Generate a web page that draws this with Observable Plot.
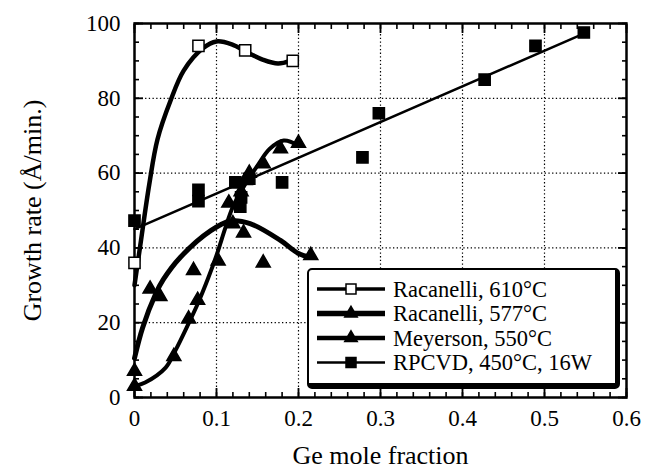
<!DOCTYPE html>
<html><head><meta charset="utf-8">
<script src="https://cdn.jsdelivr.net/npm/d3@7"></script>
<script src="https://cdn.jsdelivr.net/npm/@observablehq/plot@0.6"></script>
<style>
body{margin:0;background:#fff;}
#wrap{position:relative;width:655px;height:470px;font-family:"Liberation Serif",serif;}
#legend{position:absolute;left:307px;top:268px;width:306px;height:113px;background:#fff;border:2px solid #000;border-bottom-width:6px;border-right-width:5px;border-radius:5px;}
</style></head>
<body><div id="wrap"><div id="legend"></div></div>
<script>
// Racanelli 610°C (open squares)
const r610X = [0, 0.078, 0.135, 0.193];
const r610Y = [36, 94, 92.8, 90];
const r610FitX = [0, 0.007, 0.018, 0.028, 0.044, 0.06, 0.083, 0.1, 0.12, 0.135, 0.157, 0.175, 0.19];
const r610FitY = [30, 40.6, 57, 69, 79.4, 87.4, 93.3, 95.2, 94.3, 92.6, 90.3, 89.3, 90];
// Racanelli 577°C (filled triangles)
const r577X = [0.019, 0.031, 0.072, 0.12, 0.133, 0.157, 0.215];
const r577Y = [29, 27, 34, 46.5, 44, 36, 38];
const r577FitX = [0, 0.01, 0.026, 0.035, 0.056, 0.093, 0.117, 0.141, 0.178, 0.2, 0.215];
const r577FitY = [10.5, 18.7, 27.8, 31.5, 37.5, 44.6, 47.2, 46.5, 42, 38.5, 37.5];
// Meyerson 550°C (filled triangles)
const meyX = [0, 0, 0.048, 0.066, 0.077, 0.102, 0.115, 0.13, 0.135, 0.14, 0.157, 0.178, 0.2];
const meyY = [3, 7, 11, 21, 26, 36.5, 52, 55, 58, 60, 62.5, 66.5, 68];
const meyFitX = [0, 0.013, 0.038, 0.05, 0.066, 0.077, 0.09, 0.1, 0.111, 0.12, 0.135, 0.15, 0.165, 0.182, 0.2];
const meyFitY = [3, 4, 8, 12.6, 19.8, 25, 32, 38, 45.5, 51, 57, 62, 66.5, 68.7, 67.4];
// RPCVD 450°C 16W (filled squares)
const rpX = [0, 0.078, 0.078, 0.123, 0.129, 0.13, 0.14, 0.18, 0.278, 0.298, 0.427, 0.489, 0.548];
const rpY = [47.3, 55.5, 52.5, 57.5, 51, 53.5, 58.5, 57.5, 64.2, 76, 85, 94, 97.6];
const rpFitX = [0, 0.55];
const rpFitY = [45, 97.5];

const legendNames = ["Racanelli, 610°C", "Racanelli, 577°C", "Meyerson, 550°C", "RPCVD, 450°C, 16W"];
const xMajor = [0, 0.1, 0.2, 0.3, 0.4, 0.5, 0.6];
const xMinor = d3.range(0, 31).map(i => i * 0.02);
const yMajor = [0, 20, 40, 60, 80, 100];
const yMinor = d3.range(0, 21).map(i => i * 5);
const xGrid = [0.1, 0.2, 0.3, 0.4, 0.5];
const yGrid = [20, 40, 60, 80];
const xTitle = "Ge mole fraction";
const yTitle = "Growth rate (Å/min.)";
const FONT = "'Liberation Serif', serif";

const zip = (xs, ys) => xs.map((x, i) => ({x, y: ys[i]}));
const series = [
  {fit: zip(r610FitX, r610FitY), pts: zip(r610X, r610Y), sw: 4.5, symbol: "square", fill: "white", r: 6.3, lsw: 3.5},
  {fit: zip(r577FitX, r577FitY), pts: zip(r577X, r577Y), sw: 5, symbol: "triangle", fill: "black", r: 5.2, lsw: 5.5},
  {fit: zip(meyFitX, meyFitY), pts: zip(meyX, meyY), sw: 4, symbol: "triangle", fill: "black", r: 5.2, lsw: 4.5},
  {fit: zip(rpFitX, rpFitY), pts: zip(rpX, rpY), sw: 2.5, symbol: "square", fill: "black", r: 6.3, lsw: 2.5}
];

const marks = [
  Plot.gridX(xGrid, {stroke: "black", strokeOpacity: 1, strokeWidth: 1.2, strokeDasharray: "1.3,2.4"}),
  Plot.gridY(yGrid, {stroke: "black", strokeOpacity: 1, strokeWidth: 1.2, strokeDasharray: "1.3,2.4"}),
  Plot.axisX(xMinor, {anchor: "bottom", tickSize: -5, fill: "none", label: null, strokeWidth: 1.6}),
  Plot.axisX(xMajor, {anchor: "bottom", tickSize: -9, fill: "none", label: null, strokeWidth: 1.8}),
  Plot.axisX(xMinor, {anchor: "top", tickSize: -5, fill: "none", label: null, strokeWidth: 1.6}),
  Plot.axisX(xMajor, {anchor: "top", tickSize: -9, fill: "none", label: null, strokeWidth: 1.8}),
  Plot.axisY(yMinor, {anchor: "left", tickSize: -5, fill: "none", label: null, strokeWidth: 1.6}),
  Plot.axisY(yMajor, {anchor: "left", tickSize: -9, fill: "none", label: null, strokeWidth: 1.8}),
  Plot.axisY(yMinor, {anchor: "right", tickSize: -5, fill: "none", label: null, strokeWidth: 1.6}),
  Plot.axisY(yMajor, {anchor: "right", tickSize: -9, fill: "none", label: null, strokeWidth: 1.8}),
  Plot.axisX(xMajor, {anchor: "bottom", tickSize: 0, tickPadding: 12, fontSize: 23, tickFormat: d => d === 0 ? "0" : d3.format(".1f")(d),
    label: xTitle, labelAnchor: "center", labelArrow: "none", labelOffset: 66}),
  Plot.axisY(yMajor, {anchor: "left", tickSize: 0, tickPadding: 14, fontSize: 23,
    label: yTitle, labelAnchor: "center", labelArrow: "none", labelOffset: 112}),
  Plot.frame({stroke: "black", strokeWidth: 2.5})
];
for (const s of series) {
  marks.push(Plot.line(s.fit, {x: "x", y: "y", stroke: "black", strokeWidth: s.sw, curve: "catmull-rom"}));
}
for (const s of series) {
  marks.push(Plot.dot(s.pts, {x: "x", y: "y", symbol: s.symbol, r: s.r, fill: s.fill, stroke: "black", strokeWidth: 1.5}));
}

const chart = Plot.plot({
  width: 655, height: 470,
  marginLeft: 134, marginRight: 29, marginTop: 23, marginBottom: 73,
  x: {domain: [0, 0.6]},
  y: {domain: [0, 100]},
  style: {fontFamily: FONT, fontSize: "23px", color: "black", background: "white"},
  marks
});
const wrap = document.getElementById("wrap");
wrap.insertBefore(chart, wrap.firstChild);
function forceFont(t, fs) {
  t.setAttribute("font-family", FONT);
  t.setAttribute("font-size", fs);
}
chart.querySelectorAll("text").forEach(t => {
  const big = t.textContent === xTitle || t.textContent === yTitle;
  forceFont(t, big ? 26 : 23);
});

// legend
const leg = d3.select("#legend").append("svg").attr("width", 306).attr("height", 113).style("display", "block");
const sym = {square: d3.symbolSquare, triangle: d3.symbolTriangle};
series.forEach((s, i) => {
  const cy = 19 + i * 24.5;
  leg.append("line").attr("x1", 8).attr("x2", 76).attr("y1", cy).attr("y2", cy).attr("stroke", "black").attr("stroke-width", s.lsw);
  leg.append("path").attr("d", d3.symbol(sym[s.symbol], Math.PI * s.r * s.r * 0.8)()).attr("transform", `translate(42,${cy})`)
    .attr("fill", s.fill).attr("stroke", "black").attr("stroke-width", 1.5);
  const t = leg.append("text").attr("x", 84).attr("y", cy).attr("dy", "0.35em").text(legendNames[i]).node();
  forceFont(t, 22.5);
});
</script></body></html>
